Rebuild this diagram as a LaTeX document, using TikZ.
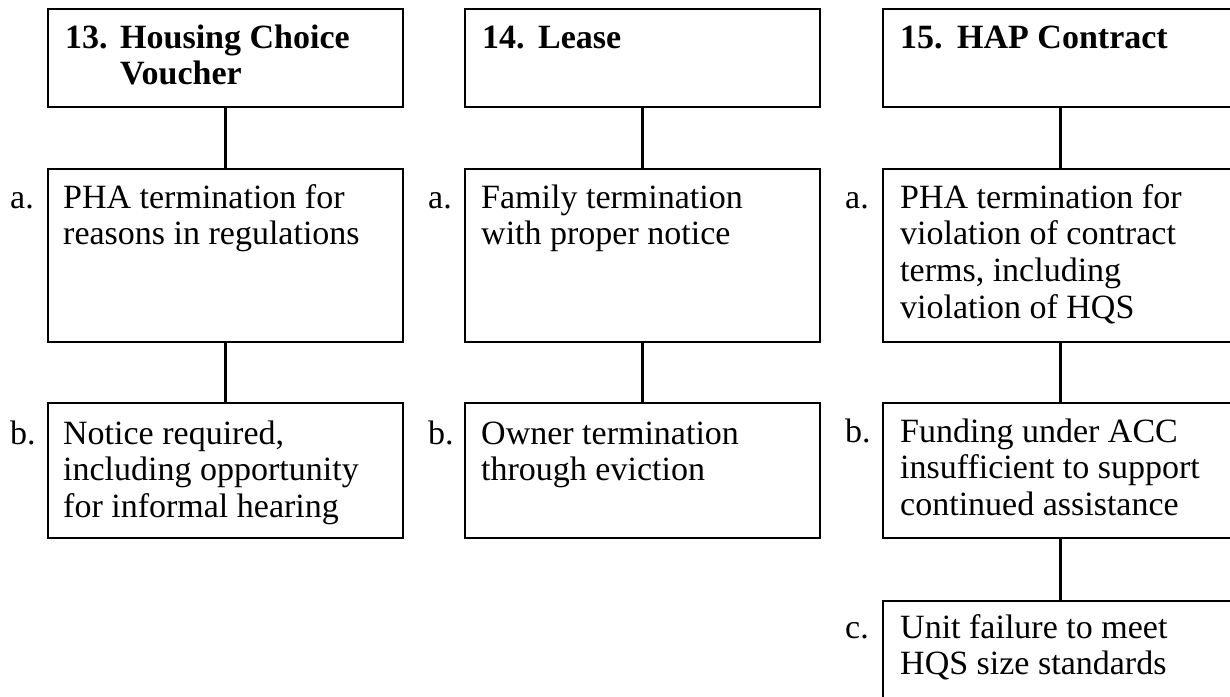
\documentclass[tikz,border=0pt]{standalone}
\usepackage{fontspec}
\setmainfont{Liberation Serif}
\begin{document}
\begin{tikzpicture}[x=1pt,y=-1pt,
  box/.style={draw,line width=2.6pt,minimum width=355pt,anchor=north west,inner sep=0pt,outer sep=0pt},
  conn/.style={line width=2.4pt},
  txt/.style={anchor=base west,inner sep=0pt,font=\fontsize{34}{36.7}\selectfont},
  hdr/.style={anchor=base west,inner sep=0pt,font=\fontsize{34}{36.7}\selectfont\bfseries},
]
\useasboundingbox (0,0) rectangle (1230,696);
\clip (0,0) rectangle (1230,696);
% column 1
\node[box,minimum height=98pt]  (h1) at (48,9) {};
\node[box,minimum height=173pt] (a1) at (48,169) {};
\node[box,minimum height=135pt] (b1) at (48,403) {};
% column 2
\node[box,minimum height=98pt]  (h2) at (465,9) {};
\node[box,minimum height=173pt] (a2) at (465,169) {};
\node[box,minimum height=135pt] (b2) at (465,403) {};
% column 3
\node[box,minimum height=98pt]  (h3) at (883,9) {};
\node[box,minimum height=173pt] (a3) at (883,169) {};
\node[box,minimum height=135pt] (b3) at (883,403) {};
\node[box,minimum height=139pt] (c3) at (883,601) {};
% connectors
\draw[conn] (h1.south) -- (a1.north);
\draw[conn] (a1.south) -- (b1.north);
\draw[conn] (h2.south) -- (a2.north);
\draw[conn] (a2.south) -- (b2.north);
\draw[conn] (h3.south) -- (a3.north);
\draw[conn] (a3.south) -- (b3.north);
\draw[conn] (b3.south) -- (c3.north);
% headers
\node[hdr] (h1n) at (65,48) {13.};
\node[hdr] (h1t) at (120,48) {\parbox[t]{300pt}{\raggedright Housing Choice\\Voucher}};
\node[hdr] (h2n) at (482,48) {14.};
\node[hdr] (h2t) at (538,48) {Lease};
\node[hdr] (h3n) at (900,48) {15.};
\node[hdr] (h3t) at (957,48) {HAP Contract};
% labels
\node[txt] (la1) at (10,208) {a.};
\node[txt] (lb1) at (10,444) {b.};
\node[txt] (la2) at (428,208) {a.};
\node[txt] (lb2) at (428,444) {b.};
\node[txt] (la3) at (845,208) {a.};
\node[txt] (lb3) at (845,442) {b.};
\node[txt] (lc3) at (845,638) {c.};
% body texts
\node[txt] (ta1) at (63,208) {\parbox[t]{340pt}{\raggedright PHA termination for\\reasons in regulations}};
\node[txt] (tb1) at (63,444) {\parbox[t]{340pt}{\raggedright Notice required,\\including opportunity\\for informal hearing}};
\node[txt] (ta2) at (481,208) {\parbox[t]{340pt}{\raggedright Family termination\\with proper notice}};
\node[txt] (tb2) at (481,444) {\parbox[t]{340pt}{\raggedright Owner termination\\through eviction}};
\node[txt] (ta3) at (900,208) {\parbox[t]{340pt}{\raggedright PHA termination for\\violation of contract\\terms, including\\violation of HQS}};
\node[txt] (tb3) at (900,442) {\parbox[t]{340pt}{\raggedright Funding under ACC\\insufficient to support\\continued assistance}};
\node[txt] (tc3) at (900,638) {\parbox[t]{340pt}{\raggedright Unit failure to meet\\HQS size standards}};
\end{tikzpicture}
\end{document}
